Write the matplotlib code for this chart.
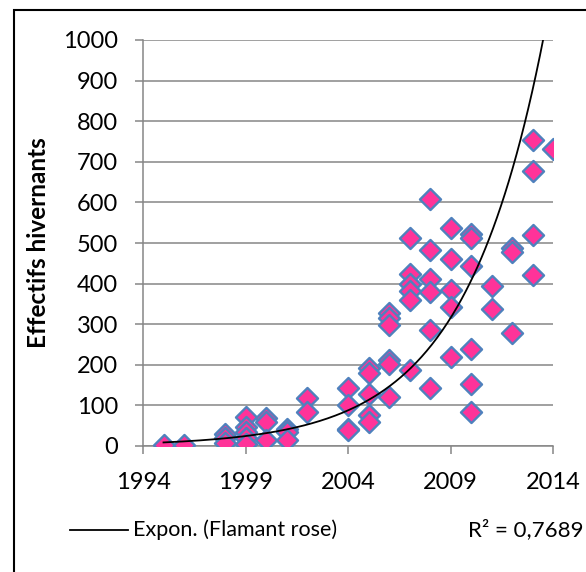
#!/usr/bin/env python3
"""Flamant rose - effectifs hivernants avec tendance exponentielle."""
import numpy as np
import matplotlib; matplotlib.use('Agg')
import matplotlib.pyplot as plt
from matplotlib.lines import Line2D
from matplotlib.patches import Rectangle

# counts per winter (several sites per year)
years = [1995, 1996,
         1998, 1998, 1998,
         1999, 1999, 1999, 1999, 1999,
         2000, 2000, 2000,
         2001, 2001, 2001,
         2002, 2002,
         2004, 2004, 2004, 2004,
         2005, 2005, 2005, 2005, 2005,
         2006, 2006, 2006, 2006, 2006, 2006,
         2007, 2007, 2007, 2007, 2007, 2007,
         2008, 2008, 2008, 2008, 2008, 2008,
         2009, 2009, 2009, 2009, 2009,
         2010, 2010, 2010, 2010, 2010, 2010,
         2011, 2011,
         2012, 2012, 2012,
         2013, 2013, 2013, 2013,
         2014]
counts = [3, 2,
          30, 20, 8,
          72, 47, 35, 20, 5,
          68, 60, 15,
          43, 35, 16,
          117, 83,
          144, 101, 43, 40,
          193, 179, 128, 76, 60,
          328, 316, 297, 213, 203, 121,
          512, 423, 398, 383, 360, 186,
          609, 482, 412, 379, 285, 143,
          536, 461, 385, 343, 218,
          522, 512, 443, 240, 152, 84,
          394, 337,
          487, 479, 279,
          754, 678, 520, 420,
          731]
x_ticks = [1994, 1999, 2004, 2009, 2014]
y_ticks = list(range(0, 1001, 100))
r2_text = "R² = 0,7689"

plt.rcParams['font.family'] = ['Lato', 'DejaVu Sans']

W, H = 586, 572
fig = plt.figure(figsize=(W / 100, H / 100), dpi=100)
ax = fig.add_axes([143 / W, 1 - 446 / H, 410 / W, 406 / H])

# chart frame (runs off the right/bottom edge like the original)
fig.add_artist(Rectangle((14 / W, -0.1), 1.0, 1 - 10 / H + 0.1,
                         transform=fig.transFigure, fill=False,
                         edgecolor="black", linewidth=1.5))

ax.scatter(years, counts, marker="D", s=115, color="#FF3399",
           edgecolors="#4F81BD", linewidths=1.7, zorder=3)

# exponential trend, same as Excel: least squares on ln(y)
b, ln_a = np.polyfit(np.array(years, float), np.log(counts), 1)
xs = np.linspace(min(years), max(years), 300)
ax.plot(xs, np.exp(ln_a + b * xs), color="black", linewidth=1.3, zorder=4)

ax.set_xlim(1994, 2014)
ax.set_ylim(0, 1000)
ax.set_xticks(x_ticks)
ax.set_yticks(y_ticks)
ax.grid(axis="y", color="#868686", linewidth=1.1)
ax.set_axisbelow(True)
for s in ["top", "right"]:
    ax.spines[s].set_visible(False)
for s in ["left", "bottom"]:
    ax.spines[s].set_color("#868686")
    ax.spines[s].set_linewidth(1.1)
ax.tick_params(axis="both", colors="#868686", labelcolor="black",
               length=6, width=1.1, labelsize=17)
ax.tick_params(axis="y", pad=12)
ax.tick_params(axis="x", pad=13)
ax.set_ylabel("Effectifs hivernants", fontsize=17.5, fontweight="bold", labelpad=9)

# legend row under the plot
fig.add_artist(Line2D([70 / W, 128 / W], [1 - 530 / H, 1 - 530 / H],
                      transform=fig.transFigure, color="black", linewidth=1.3))
fig.text(133 / W, 1 - 530 / H, "Expon. (Flamant rose)", fontsize=15.5, va="center")
fig.text(468 / W, 1 - 530 / H, r2_text, fontsize=16, va="center")

fig.savefig("out.png", dpi=100)
plt.close()
